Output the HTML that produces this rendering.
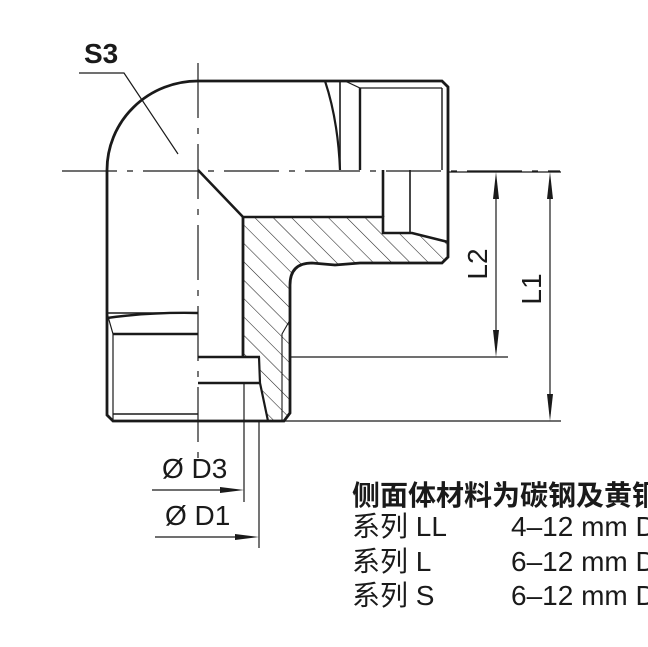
<!DOCTYPE html>
<html><head><meta charset="utf-8"><style>
html,body{margin:0;padding:0;background:#fff;width:648px;height:647px;overflow:hidden}
svg{position:absolute;left:0;top:0}
.t{font-family:"Liberation Sans","Noto Sans CJK SC",sans-serif;fill:#1a1a1a}
</style></head><body>
<svg width="648" height="647" viewBox="0 0 648 647" xmlns="http://www.w3.org/2000/svg">
<defs>
<pattern id="h" patternUnits="userSpaceOnUse" width="13" height="13" patternTransform="rotate(-45)">
<line x1="0" y1="0" x2="0" y2="13" stroke="#222" stroke-width="1.1"/>
</pattern>
</defs>
<g fill="none" stroke="#1a1a1a">
<path d="M243,217 L383,217 L383,233 L412,233 L448,242 L448,257 L442,263 L360,263 L335,265 L310,263 Q290,265 290,285 L290,413 L284,421 L268,421 L260,383 L259,357 L243,357 Z" fill="url(#h)" stroke="none"/>
<path d="M198,81 L442,81 L448,87 L448,257 L442,263 L360,263 L335,265 L312,263 Q290,263 290,285 L290,413 L284,421 L113,421 L107,415 L107,170 A91,89 0 0 1 198,81" stroke-width="2.8"/>
<path d="M198,170 L243,217 L383,217 L383,233 L412,233 L448,242" stroke-width="2.6"/>
<path d="M243,217 L243,357" stroke-width="2.8"/>
<path d="M198,357 L260,357" stroke-width="2.4"/>
<path d="M198,383 L260,383" stroke-width="2.6"/>
<path d="M259,357 L260,383 L268,421" stroke-width="2.2"/>
<path d="M410,170 L410,233" stroke-width="1.6"/>
<path d="M383,170 L383,217" stroke-width="2.6"/>
<path d="M325,81 Q338,120 340,170" stroke-width="2.2"/>
<path d="M340,81 L340,170" stroke-width="1.6"/>
<path d="M345,81 L360,88 L442,88" stroke-width="1.2"/>
<path d="M360,88 L360,170" stroke-width="2.4"/>
<path d="M442,88 L442,170" stroke-width="1.4"/>
<path d="M107,318 Q150,312 198,313" stroke-width="2.4"/>
<path d="M107,313 L198,313" stroke-width="1.6"/>
<path d="M107,313 L113,334 L113,421" stroke-width="1.2"/>
<path d="M113,334 L198,334" stroke-width="2.4"/>
<path d="M113,414 L198,414" stroke-width="1.6"/>
<path d="M290,320 L282,334 L282,421" stroke-width="1.1"/>
<path d="M62,171 L560,171" stroke-width="1.2" stroke-dasharray="55,10,6,10"/>
<path d="M198,63 L198,460" stroke-width="1.2" stroke-dasharray="55,10,6,10"/>
<path d="M79,73 L124,73 L178,154" stroke-width="1.2"/>
<path d="M448,172 L561,172 M290,357 L508,357 M284,421 L561,421" stroke-width="1.2"/>
<path d="M496,180 L496,350" stroke-width="1.2"/>
<path d="M550,180 L550,414" stroke-width="1.2"/>
<path d="M244,383 L244,502 M259,421 L259,548" stroke-width="1.2"/>
<path d="M152,490 L236,490" stroke-width="1.2"/>
<path d="M155,537 L251,537" stroke-width="1.2"/>
</g>
<g fill="#1a1a1a">
<path d="M496,172 L499,199 L493,199 Z"/>
<path d="M496,357 L499,330 L493,330 Z"/>
<path d="M550,172 L553,199 L547,199 Z"/>
<path d="M550,421 L553,394 L547,394 Z"/>
<path d="M244,490 L220,487 L220,493 Z"/>
<path d="M259,537 L235,534 L235,540 Z"/>
</g>
<text class="t" x="84" y="63" font-size="28" font-weight="bold">S3</text>
<text class="t" font-size="28" transform="translate(487,264) rotate(-90)" text-anchor="middle">L2</text>
<text class="t" font-size="28" transform="translate(541,289) rotate(-90)" text-anchor="middle">L1</text>
<text class="t" x="162" y="478" font-size="28">Ø D3</text>
<text class="t" x="165" y="525" font-size="28">Ø D1</text>
<text class="t" x="352" y="505" font-size="28" font-weight="bold">侧面体材料为碳钢及黄铜</text>
<text class="t" x="352" y="536" font-size="28">系列 LL</text>
<text class="t" x="511" y="536" font-size="28">4–12 mm D</text>
<text class="t" x="352" y="571" font-size="28">系列 L</text>
<text class="t" x="511" y="571" font-size="28">6–12 mm D</text>
<text class="t" x="352" y="605" font-size="28">系列 S</text>
<text class="t" x="511" y="605" font-size="28">6–12 mm D</text>
</svg>
</body></html>
